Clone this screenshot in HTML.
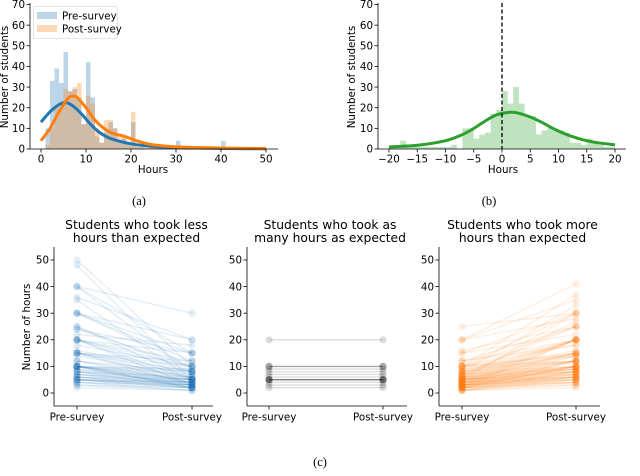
<!DOCTYPE html>
<html><head><meta charset="utf-8"><style>
html,body{margin:0;padding:0;background:#fff;}
svg{display:block;font-family:"DejaVu Sans","Liberation Sans",sans-serif;}
</style></head><body>
<svg id="chart" width="640" height="476" viewBox="0 0 640 476" xmlns="http://www.w3.org/2000/svg"></svg>
<script>
// ---- Panel (a) data ----
const histBins = [0,1,2,3,4,5,6,7,8,9,10,11,12,13,14,15,16,17,18,19,20,21,22,23,24,25,26,27,28,29,30,31,32,33,34,35,36,37,38,39,40,41,42];
const preCounts = [0,10,33,39,32,47,28,29,25,12,42,25,6,3,8,13,10,3,5,2,13,1,1,0,1,1,0,0,0,0,4,0,0,0,0,1,0,1,0,0,4,1,0];
const postCounts = [0,2,10,20,20,29,28,30,32,12,26,22,10,3,14,14,10,7,6,3,18,2,1,1,2,2,1,1,1,1,2,1,1,1,0,1,1,0,1,0,1,0,1];
const kdeX = [0,2,4,5.5,7,9,11,13,15,17,20,25,30,40,50];
const preKde = [13,18,21.5,22.5,21,17,12,8,5.5,4,2.5,1.2,0.7,0.3,0.1];
const kdeX2 = [0,2,4,6,7,8,10,12,14,16,18,20,22,25,30,40,50];
const postKde = [4,10,18,24.5,25.5,25,20,14,10,7.5,6.5,5,3.5,2,1,0.5,0.2];
const histTicksA = [0,10,20,30,40,50];
const yTicksTop = [0,10,20,30,40,50,60,70];
// ---- Panel (b) data ----
const diffBins = [-20,-19,-18,-17,-16,-15,-14,-13,-12,-11,-10,-9,-8,-7,-6,-5,-4,-3,-2,-1,0,1,2,3,4,5,6,7,8,9,10,11,12,13,14,15,16,17,18,19];
const diffCounts = [1,1,4,1,1,1,1,1,1,1,1,2,0,10,10,5,7,8,17,19,28,22,30,22,16,16,7,9,10,9,9,8,3,3,2,5,3,2,1,1];
const diffKdeX = [-20,-15,-10,-7,-5,-3,-1,1.5,3,5,7,9,11,13,15,17,20];
const diffKde = [1,1.8,4,7,10,13.5,16.5,17.8,17.3,15.5,13,10,7.5,5.5,4,3,2];
const histTicksB = [-20,-15,-10,-5,0,5,10,15,20];
// ---- Panel (c) data ----
const preLess = [50,48,40,40,40,36,35,30,30,30,30,25,25,24,24,22,20,20,20,20,20,20,18,16,15,15,15,15,15,15,14,12,12,12,10,10,10,10,10,10,10,10,10,10,9,9,8,8,8,8,7,7,7,6,6,6,6,5,5,5,5,5,5,4,4,4,3,3,2];
const postLess = [10,5,30,8,15,20,5,10,15,12,20,5,8,10,15,18,5,10,15,8,12,3,10,8,5,10,7,3,8,12,6,4,8,6,5,2,8,3,6,7,4,5,9,2,3,5,4,6,2,5,3,5,4,2,4,3,5,2,3,4,2,3,4,2,3,1,2,1,1];
const sameVals = [20,10,10,10,9,8,7,6,5,5,5,5,5,4,3,2];
const preMore = [25,20,20,20,16,15,15,12,12,12,10,10,10,10,10,10,10,10,9,9,8,8,8,8,8,8,7,7,7,7,7,7,6,6,6,6,6,6,6,5,5,5,5,5,5,5,5,5,5,5,5,4,4,4,4,4,4,4,4,4,4,3,3,3,3,3,3,3,3,3,3,3,2,2,2,2,2,2,2,2,2,2,1,1,1,1,1,1,2,3];
const postMore = [30,35,28,41,25,22,30,20,25,18,20,15,37,14,12,25,18,30,15,12,10,20,14,12,33,16,10,15,20,12,9,25,8,10,12,20,15,9,27,8,10,7,12,20,9,15,6,8,30,14,10,6,8,10,12,5,20,9,7,15,6,5,10,8,4,6,12,20,7,9,5,14,4,6,8,3,10,5,12,20,7,4,3,5,2,8,4,6,10,6];
const yTicksBottom = [0,10,20,30,40,50];
const cats = ["Pre-survey","Post-survey"];

const svg = document.getElementById('chart');
const NS = "http://www.w3.org/2000/svg";
const FS = 10.3;
function mk(tag, attrs, parent){const e=document.createElementNS(NS,tag);for(const k in attrs)e.setAttribute(k,attrs[k]);(parent||svg).appendChild(e);return e;}
function txt(s, attrs, parent){const e=mk('text',attrs,parent);e.textContent=s;return e;}
function lin(d0,d1,r0,r1){return v=>r0+(v-d0)*(r1-r0)/(d1-d0);}

function axesTop(g, x, y, left, right, bottom, top, xticks, name){
  const ax=mk('g',{},g);
  
  
  mk('line',{x1:left,y1:bottom,x2:right,y2:bottom,stroke:'#000','stroke-width':0.8},ax);
  mk('line',{x1:left,y1:bottom,x2:left,y2:top,stroke:'#000','stroke-width':0.8},ax);
  xticks.forEach(t=>{
    mk('line',{x1:x(t),y1:bottom,x2:x(t),y2:bottom+3.5,stroke:'#000','stroke-width':0.8},ax);
    const l=txt(t<0?'\u2212'+(-t):String(t),{x:x(t),y:bottom+13.5,'font-size':FS,'text-anchor':'middle'},ax);
    
    
  });
  yTicksTop.forEach(t=>{
    mk('line',{x1:left-3.5,y1:y(t),x2:left,y2:y(t),stroke:'#000','stroke-width':0.8},ax);
    const l=txt(String(t),{x:left-5,y:y(t)+3.7,'font-size':FS,'text-anchor':'end'},ax);
    
    
  });
}
function smoothPath(xs, ys, x, y){
  const p=xs.map((v,i)=>[x(v),y(ys[i])]);
  let d='M'+p[0][0]+','+p[0][1];
  for(let i=0;i<p.length-1;i++){
    const p0=p[i-1]||p[i],p1=p[i],p2=p[i+1],p3=p[i+2]||p2;
    const c1=[p1[0]+(p2[0]-p0[0])/6,p1[1]+(p2[1]-p0[1])/6];
    const c2=[p2[0]-(p3[0]-p1[0])/6,p2[1]-(p3[1]-p1[1])/6];
    d+=` C${c1[0].toFixed(1)},${c1[1].toFixed(1)} ${c2[0].toFixed(1)},${c2[1].toFixed(1)} ${p2[0].toFixed(1)},${p2[1].toFixed(1)}`;
  }
  return d;
}

// ===== Panel (a) =====
(function(){
  const g=mk('g',{});
  
  
  const x=lin(0,50,41,266), y=lin(0,70,149,4.5);
  histBins.forEach((b,i)=>{
    const r=mk('rect',{x:x(b),y:y(preCounts[i]),width:x(b+1)-x(b),height:y(0)-y(preCounts[i]),fill:'rgba(31,119,180,0.3)'},g);
    
    
  });
  histBins.forEach((b,i)=>{
    const r=mk('rect',{x:x(b),y:y(postCounts[i]),width:x(b+1)-x(b),height:y(0)-y(postCounts[i]),fill:'rgba(255,127,14,0.3)'},g);
    
    
  });
  const k1=mk('path',{d:smoothPath(kdeX,preKde,x,y),fill:'none',stroke:'#1f77b4','stroke-width':3},g);
  
  
  const k2=mk('path',{d:smoothPath(kdeX2,postKde,x,y),fill:'none',stroke:'#ff7f0e','stroke-width':3},g);
  
  
  axesTop(g,x,y,30,278,149,3,histTicksA,'panel-a');
  const xl=txt('Hours',{x:153,y:173,'font-size':FS,'text-anchor':'middle'},g);
  
  
  const yl=txt('Number of students',{x:0,y:0,'font-size':FS,'text-anchor':'middle',transform:'translate(8,77) rotate(-90)'},g);
  
  
  const lg=mk('g',{},g);
  
  
  mk('rect',{x:33.5,y:6.5,width:84,height:32,rx:2,fill:'#fff','fill-opacity':0.8,stroke:'#ddd','stroke-width':0.8},lg);
  mk('rect',{x:37,y:12,width:20,height:7,fill:'rgba(31,119,180,0.3)'},lg);
  mk('rect',{x:37,y:25,width:20,height:7,fill:'rgba(255,127,14,0.3)'},lg);
  const e1=txt('Pre-survey',{x:62,y:19.5,'font-size':FS},lg);
  
  
  const e2=txt('Post-survey',{x:62,y:32.5,'font-size':FS},lg);
  
  
})();

// ===== Panel (b) =====
(function(){
  const g=mk('g',{});
  
  
  const x=lin(-20,20,389,615), y=lin(0,70,149,4.5);
  diffBins.forEach((b,i)=>{
    const r=mk('rect',{x:x(b),y:y(diffCounts[i]),width:x(b+1)-x(b),height:y(0)-y(diffCounts[i]),fill:'rgba(44,160,44,0.3)'},g);
    
    
  });
  const k=mk('path',{d:smoothPath(diffKdeX,diffKde,x,y),fill:'none',stroke:'#2ca02c','stroke-width':3},g);
  
  
  const z=mk('line',{x1:x(0),y1:3,x2:x(0),y2:149,stroke:'#000','stroke-width':1.3,'stroke-dasharray':'4,2.5'},g);
  
  
  axesTop(g,x,y,378,626,149,3,histTicksB,'panel-b');
  const xl=txt('Hours',{x:503,y:173,'font-size':FS,'text-anchor':'middle'},g);
  
  
  const yl=txt('Number of students',{x:0,y:0,'font-size':FS,'text-anchor':'middle',transform:'translate(355,77) rotate(-90)'},g);
  
  
})();

// captions
[['(a)',139,205],['(b)',489,205],['(c)',320,466]].forEach(c=>{
  const t=txt(c[0],{x:c[1],y:c[2],'font-size':12.5,'text-anchor':'middle','font-family':'"Liberation Serif",serif'});
  
  
});

// ===== Panel (c) slope charts =====
function slope(left, preX, postX, right, pre, post, color, alpha, title, name, showYLabel){
  const g=mk('g',{});
  
  
  const y=lin(0,50,393,260);
  const xs=[preX,postX];
  pre.forEach((v,i)=>{
    const l=mk('line',{x1:xs[0],y1:y(v),x2:xs[1],y2:y(post[i]),stroke:color,'stroke-opacity':alpha,'stroke-width':1.4},g);
    
    
    [[xs[0],v],[xs[1],post[i]]].forEach(p=>{
      const c=mk('circle',{cx:p[0],cy:y(p[1]),r:3.6,fill:color,'fill-opacity':alpha},g);
      
      
    });
  });
  mk('line',{x1:left,y1:406,x2:right,y2:406,stroke:'#000','stroke-width':0.8},g);
  mk('line',{x1:left,y1:406,x2:left,y2:247,stroke:'#000','stroke-width':0.8},g);
  yTicksBottom.forEach(t=>{
    mk('line',{x1:left-3.5,y1:y(t),x2:left,y2:y(t),stroke:'#000','stroke-width':0.8},g);
    const l=txt(String(t),{x:left-5,y:y(t)+3.7,'font-size':FS,'text-anchor':'end'},g);
    
    
  });
  cats.forEach((c,i)=>{
    mk('line',{x1:xs[i],y1:406,x2:xs[i],y2:409.5,stroke:'#000','stroke-width':0.8},g);
    const l=txt(c,{x:xs[i],y:420.5,'font-size':FS,'text-anchor':'middle'},g);
    
    
  });
  const cx=(left+right)/2+3;
  title.forEach((s,i)=>{
    const t=txt(s,{x:cx,y:229+i*13,'font-size':12.3,'text-anchor':'middle'},g);
    
    
  });
  if(showYLabel){
    const yl=txt('Number of hours',{x:0,y:0,'font-size':FS,'text-anchor':'middle',transform:'translate(30,327) rotate(-90)'},g);
    
    
  }
}
slope(54,77,192,213,preLess,postLess,'#1f77b4',0.12,['Students who took less','hours than expected'],'panel-c-less',true);
slope(247,269,383,407,sameVals,sameVals,'#000000',0.13,['Students who took as','many hours as expected'],'panel-c-same',false);
slope(439,462,576,600,preMore,postMore,'#ff7f0e',0.12,['Students who took more','hours than expected'],'panel-c-more',false);
</script>
</body></html>
